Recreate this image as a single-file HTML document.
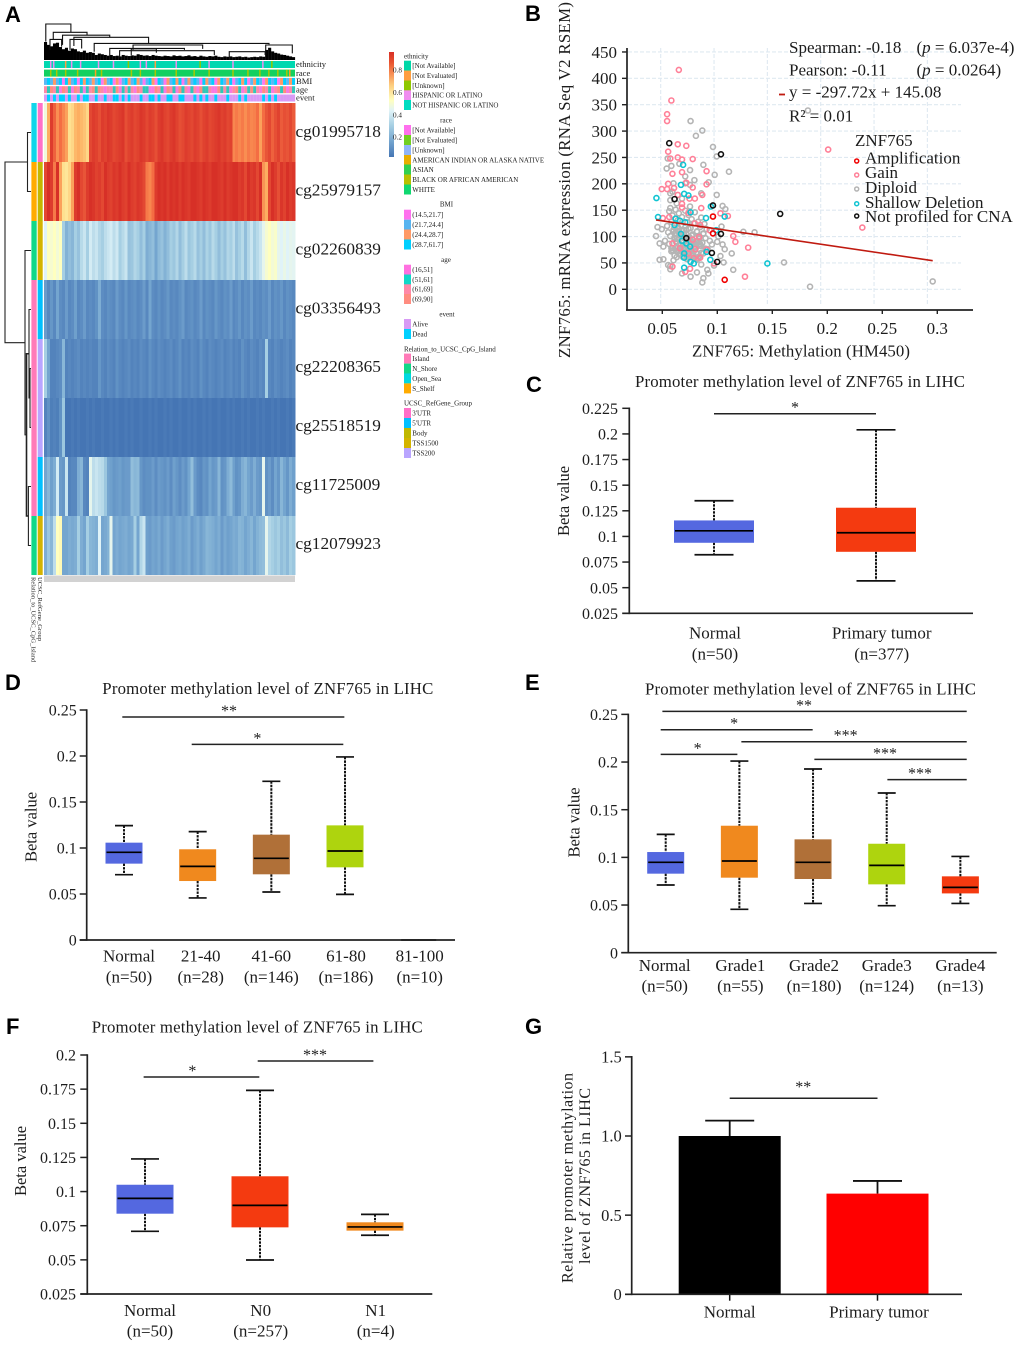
<!DOCTYPE html>
<html lang="en">
<head>
<meta charset="utf-8">
<title>ZNF765 promoter methylation in LIHC</title>
<style>
html,body{margin:0;padding:0;background:#fff;}
svg{display:block;font-family:"Liberation Serif",serif;}
text{fill:#1c1c1c;}
.letter{font-family:"Liberation Sans",sans-serif;font-weight:bold;font-size:22px;fill:#000;}
</style>
</head>
<body>
<svg id="figure" xmlns="http://www.w3.org/2000/svg" width="1020" height="1345" viewBox="0 0 1020 1345">
  <rect width="1020" height="1345" fill="#fff"/>
  <defs>
    <linearGradient id="heat-gradient" x1="0" y1="0" x2="0" y2="1">
      <stop offset="0" stop-color="#d73027"/><stop offset=".1" stop-color="#e8532f"/><stop offset=".2" stop-color="#f68a52"/>
      <stop offset=".32" stop-color="#fdcf80"/><stop offset=".46" stop-color="#ffffbf"/><stop offset=".56" stop-color="#e0f3f8"/>
      <stop offset=".7" stop-color="#a6cfe3"/><stop offset=".85" stop-color="#74a5cf"/><stop offset="1" stop-color="#4575b4"/>
    </linearGradient>
  </defs>
  <text class="letter" x="5" y="22">A</text>
  <text class="letter" x="525" y="21">B</text>
  <text class="letter" x="526" y="392">C</text>
  <text class="letter" x="5" y="690">D</text>
  <text class="letter" x="525" y="690">E</text>
  <text class="letter" x="6" y="1034">F</text>
  <text class="letter" x="525" y="1034">G</text>
  <g id="panel-a"></g>
  <g id="panel-b"></g>
  <g id="panel-c"></g>
  <g id="panel-d"></g>
  <g id="panel-e"></g>
  <g id="panel-f"></g>
  <g id="panel-g"></g>
</svg>
<script>
/* ---------- Panel A data ---------- */
const heatProbes = ['cg01995718','cg25979157','cg02260839','cg03356493','cg22208365','cg25518519','cg11725009','cg12079923'];
const heatRow1 = [.45,.7,.88,.82,.75,.8,.76,.72,.6,.62,.68,.7,.68,.66,.62,.86,.88,.87,.85,.88,.87,.89,.88,.86,.87,.88,.89,.85,.87,.88,.86,.87,.89,.88,.86,.88,.87,.85,.88,.89,.87,.86,.88,.89,.87,.85,.86,.88,.87,.86,.88,.87,.85,.87,.88,.86,.87,.88,.89,.87,.88,.86,.87,.76,.78,.76,.78,.75,.78,.76,.77,.8,.72,.8,.84,.86,.82,.85,.87,.83,.85,.84,.86,.83];
const heatRow2 = [.86,.9,.88,.78,.9,.72,.6,.58,.62,.72,.88,.9,.86,.84,.88,.9,.89,.87,.88,.86,.9,.88,.87,.89,.88,.9,.88,.87,.9,.88,.87,.89,.88,.86,.78,.76,.8,.88,.9,.89,.9,.88,.9,.89,.91,.88,.9,.89,.88,.9,.91,.89,.88,.9,.89,.88,.9,.91,.89,.88,.9,.88,.89,.9,.91,.88,.89,.86,.9,.88,.89,.86,.9,.74,.7,.86,.9,.88,.85,.89,.87,.9,.88,.89];
const heatRow3 = [.4,.5,.47,.5,.46,.5,.3,.23,.26,.24,.3,.27,.33,.36,.3,.38,.34,.36,.32,.3,.34,.36,.38,.34,.37,.3,.33,.36,.27,.28,.32,.3,.26,.3,.22,.24,.26,.2,.25,.27,.23,.26,.3,.28,.32,.26,.3,.34,.28,.3,.33,.27,.3,.26,.31,.28,.33,.3,.26,.3,.27,.32,.3,.34,.27,.3,.33,.26,.32,.36,.3,.33,.36,.42,.47,.5,.46,.48,.42,.4,.43,.4,.42,.41];
const heatRow4 = [.18,.14,.17,.14,.2,.15,.14,.18,.14,.15,.19,.14,.15,.18,.14,.15,.14,.16,.22,.15,.14,.16,.15,.14,.18,.15,.14,.17,.14,.15,.16,.14,.15,.18,.14,.2,.15,.14,.16,.14,.15,.17,.14,.15,.14,.16,.18,.14,.15,.16,.14,.15,.18,.14,.16,.15,.14,.17,.15,.14,.16,.15,.18,.14,.15,.17,.14,.16,.15,.18,.14,.15,.14,.16,.15,.18,.14,.16,.15,.17,.14,.16,.15,.14];
const heatRow5 = [.3,.2,.13,.13,.14,.15,.24,.13,.14,.13,.14,.15,.13,.14,.13,.14,.13,.13,.17,.14,.13,.15,.14,.13,.16,.14,.13,.14,.15,.13,.14,.13,.15,.14,.13,.16,.14,.13,.15,.14,.13,.14,.15,.13,.14,.16,.13,.14,.13,.15,.14,.13,.16,.14,.13,.15,.14,.13,.14,.15,.13,.14,.15,.13,.14,.13,.16,.14,.13,.15,.14,.13,.15,.14,.3,.14,.13,.15,.14,.13,.14,.15,.13,.14];
const heatRow6 = [.13,.16,.12,.13,.12,.16,.28,.1,.1,.11,.1,.11,.1,.1,.11,.1,.11,.1,.1,.11,.1,.1,.11,.1,.11,.1,.1,.11,.1,.11,.1,.1,.11,.1,.1,.11,.1,.11,.1,.1,.11,.1,.11,.1,.1,.11,.1,.1,.11,.1,.11,.1,.1,.11,.1,.11,.1,.1,.11,.1,.1,.11,.1,.11,.1,.1,.11,.1,.11,.1,.1,.11,.1,.11,.1,.1,.11,.1,.11,.1,.1,.11,.1,.11];
const heatRow7 = [.2,.24,.19,.22,.38,.18,.17,.36,.13,.14,.14,.22,.24,.14,.13,.42,.34,.36,.34,.33,.28,.2,.19,.17,.18,.19,.17,.18,.18,.26,.24,.25,.17,.15,.16,.16,.18,.15,.18,.17,.16,.18,.15,.19,.17,.15,.18,.16,.2,.26,.18,.15,.14,.17,.16,.2,.17,.18,.24,.16,.17,.22,.25,.19,.16,.17,.22,.24,.2,.18,.22,.18,.17,.42,.16,.18,.15,.2,.17,.24,.2,.17,.22,.19];
const heatRow8 = [.22,.28,.24,.34,.5,.52,.2,.2,.22,.21,.22,.3,.22,.2,.3,.24,.23,.22,.4,.2,.21,.23,.42,.2,.22,.2,.21,.22,.2,.21,.3,.2,.32,.36,.19,.18,.2,.19,.21,.18,.2,.22,.19,.18,.2,.21,.19,.2,.22,.18,.2,.22,.19,.21,.24,.23,.22,.2,.22,.18,.21,.19,.2,.22,.21,.24,.23,.2,.22,.24,.2,.23,.25,.26,.42,.32,.3,.28,.3,.26,.28,.25,.3,.28];
const heatRows = [heatRow1,heatRow2,heatRow3,heatRow4,heatRow5,heatRow6,heatRow7,heatRow8];
const annotationNames = ['ethnicity','race','BMI','age','event'];
const annotationEthnicity = 'nnppnnnonp'+'nnpnnnnnpn'+'nnnpnnnngn'+'nnpnpnnonn'+'nnnnpnnnnn'+'nngnnpnnnn'+'nnnpnnnnnn'+'nnnpnngnnn'+'nnnn';
const annotationRace = 'ggogoggogg'+'gogggggrgo'+'gggggggggo'+'ggoggggogg'+'ggggoggggg'+'oggggogggg'+'gggoggggog'+'ggoggoggog'+'gorg';
const annotationBmi = 'bdbcbdadcb'+'dadcdbcbda'+'cbdacabdcb'+'dcbabdcadb'+'acbdcdabcb'+'dbadcbdacd'+'bcdabdcdab'+'cdbacdbdac'+'dbcd';
const annotationAge = 'rtsrtasrta'+'srtatrstsr'+'arrtsatrtr'+'asrttaasrt'+'asrtastrat'+'rasttraast'+'rtarstarts'+'trasrtarst'+'sart';
const annotationEvent = 'lclclcclcl'+'lclccllcll'+'cllcclclcl'+'llcllcclcl'+'lccllcclll'+'clclcllcll'+'lclllclcll'+'lllclclcll'+'llll';
const annotationRows = [annotationEthnicity,annotationRace,annotationBmi,annotationAge,annotationEvent];
const rowRelationGroup = ['Open_Sea','S_Shelf','N_Shore','Island','Island','Island','Island','N_Shore'];
const rowRefGeneGroup = ['3\'UTR','Body','TSS1500','5\'UTR','TSS200','TSS200','5\'UTR','TSS1500'];
/* dendrogram merges: columns and heights */
const dendroColA = [.6,3.1,6.2,10,16.8,29.8,22,25.3,29.2,74.2,8.7,2,62];
const dendroColB = [9,14.4,22,35,75.3,53.1,47,57,37.6,83.1,12.6,5.9,74];
const dendroHeight = [1,.77,.69,.63,.46,.417,.32,.26,.31,.417,.57,.57,.23];
const dendroDropA = [.51,.57,.42,.39,.23,.28,.11,.07,.14,.14,.28,.28,.09];
const dendroDropB = [.77,.69,.63,.46,.435,.31,.28,.14,.2,.185,.32,.37,.14];
const dendroSilhouette = [.5,.42,.38,.46,.48,.36,.3,.34,.26,.32,.3,.24,.22,.26,.2,.22,.2,.14,.18,.16,.14,.12,.14,.11,.12,.1,.14,.12,.11,.13,.12,.16,.14,.12,.13,.11,.14,.12,.11,.1,.12,.11,.1,.13,.11,.12,.1,.11,.13,.1,.11,.09,.12,.1,.09,.11,.1,.12,.09,.08,.1,.09,.1,.08,.09,.1,.08,.09,.07,.08,.09,.08,.1,.09,.28,.34,.24,.2,.18,.15,.14,.12,.1,.08];

/* ---------- Panel B data ---------- */
const gainX = [.067,.06,.056,.056,.066,.074,.057,.059,.066,.07,.08,.093,.07,.061,.08,.057,.051,.056,.0625,.074,.093,.089,.066,.077,.082,.07,.07,.088,.076,.052,.058,.113,.106,.082,.087,.207,.239,.118,.12,.132,.129,.061,.068,.086,.08,.0825,.093,.076,.087,.081,.061,.0775,.073,.1,.096];
const gainY = [416,358,332,319,275,272,261,248,250,246,247,224,222,219,193,200,190,190,192,202,199,179,179,172,172,162,155,154,145,135,137,139,144,125,122,265,117,101,90,79,24,87,78,99,94,76,75,68,60,59,43,39,33,49,112];
const amplificationX = [.099,.099,.11];
const amplificationY = [138,106,18];
const shallowX = [.071,.069,.072,.076,.046,.0475,.078,.064,.068,.073,.063,.097,.0925,.11,.102,.069,.07,.074,.0775,.072,.072,.093,.0965,.078,.081,.072,.15];
const shallowY = [236,198,181,178,173,137,146,134,130,127,122,157,135,138,112,105,92,87,81,68,60,71,56,52,49,41,49];
const notProfiledX = [.058,.1065,.099,.162,.1065,.098,.103,.074,.063];
const notProfiledY = [277,256,159,143,105,69,52,97,171];
const diploidX = [.188,.078,.089,.083,.099,.1025,.114,.1006,.09,.0566,.0556,.06,.0675,.073,.0775,.0816,.095,.062,.1025,.059,.059,.061,.073,.0775,.07,.059,.065,.0775,.088,.108,.1106,.107,.1275,.138,.047,.051,.0456,.049,.054,.0525,.1166,.118,.049,.0525,.057,.059,.07,.078,.084,.09,.089,.0947,.0937,.109,.1656,.19,.305,
 .058,.061,.064,.067,.07,.073,.076,.079,.082,.085,.088,.091,.056,.06,.063,.066,.069,.072,.075,.078,.081,.084,.087,.09,.093,.057,.059,.062,.065,.068,.071,.074,.077,.08,.083,.086,.089,.092,.096,.058,.061,.064,.067,.071,.074,.077,.08,.083,.087,.09,.094,.098,.06,.063,.066,.069,.072,.075,.079,.082,.085,.088,.092,.062,.065,.068,.071,.074,.078,.081,.084,.088,.1,.104,.103,.108,.11,.106,
 .059,.062,.064,.066,.068,.07,.072,.074,.076,.078,.08,.082,.084,.086,.088,.09,.06,.063,.065,.067,.069,.071,.073,.075,.077,.079,.081,.083,.085,.087,.061,.063,.066,.068,.07,.072,.074,.076,.078,.08,.082,.084,.086,.065,.067,.069,.071,.073,.075,.077,.079,.081,.083,.066,.069,.072,.075,.078,.08,.068,.071,.074,.076];
const diploidY = [339,319,301,291,270,252,223,217,236,248,229,234,238,214,226,207,203,201,179,182,169,185,201,198,172,154,163,157,182,158,152,119,109,108,118,114,101,87,92,81,68,37,56,57,46,38,30,24,32,21,13,30,37,51,51,5,15,
 148,140,151,144,137,149,141,133,146,128,136,124,120,128,117,131,122,112,127,116,125,109,118,106,114,108,101,110,96,105,93,112,99,104,90,101,88,97,92,86,78,91,74,84,95,70,89,79,83,68,76,85,72,64,79,67,75,62,73,81,59,69,77,55,61,66,70,58,52,63,56,47,45,100,90,85,76,63,44,
 113,107,118,102,111,97,106,115,92,103,87,110,96,82,105,78,98,89,108,76,99,84,93,71,102,80,91,67,86,74,95,72,83,101,69,88,77,94,65,81,90,62,73,111,84,63,99,75,92,68,86,58,79,72,103,57,89,65,77,61,83,70,54];
const regressionSlope = -297.72;
const regressionIntercept = 145.08;
const regressionRange = [.0456,.305];
const scatterYTicks = [0,50,100,150,200,250,300,350,400,450];
const scatterXTicks = [.05,.1,.15,.2,.25,.3];
const scatterXTickLabels = ['0.05','0.1','0.15','0.2','0.25','0.3'];

/* ---------- Panel C data ---------- */
const cCategories = ['Normal','Primary tumor'];
const cCounts = ['(n=50)','(n=377)'];
const cLow = [.0821,.0566];
const cQ1 = [.0938,.085];
const cMedian = [.1055,.1036];
const cQ3 = [.1156,.128];
const cHigh = [.1348,.204];
const cColors = ['#5468e0','#f43a10'];
const cTicks = [.025,.05,.075,.1,.125,.15,.175,.2,.225];
const cTickLabels = ['0.025','0.05','0.075','0.1','0.125','0.15','0.175','0.2','0.225'];
const cSigFrom = [0];
const cSigTo = [1];
const cSigLevel = [.2197];
const cSigLabel = ['*'];
const cSigAt = [.5];

/* ---------- Panel D data ---------- */
const dCategories = ['Normal','21-40','41-60','61-80','81-100'];
const dCounts = ['(n=50)','(n=28)','(n=146)','(n=186)','(n=10)'];
const dLow = [.071,.0457,.0522,.0496,0];
const dQ1 = [.083,.0641,.0714,.079,0];
const dMedian = [.0953,.08,.0888,.0967,0];
const dQ3 = [.1058,.0986,.1145,.1246,0];
const dHigh = [.1243,.1178,.1725,.199,0];
const dColors = ['#5468e0','#f0891e','#b07038','#aed40e','#f43a10'];
const dTicks = [0,.05,.1,.15,.2,.25];
const dTickLabels = ['0','0.05','0.1','0.15','0.2','0.25'];
const dSigFrom = [-.023,.919];
const dSigTo = [2.991,2.977];
const dSigLevel = [.2424,.2127];
const dSigLabel = ['**','*'];
const dSigAt = [1.425,1.81];

/* ---------- Panel E data ---------- */
const eCategories = ['Normal','Grade1','Grade2','Grade3','Grade4'];
const eCounts = ['(n=50)','(n=55)','(n=180)','(n=124)','(n=13)'];
const eLow = [.071,.0455,.0517,.0493,.0517];
const eQ1 = [.0829,.0787,.0773,.0717,.0622];
const eMedian = [.0948,.0962,.0948,.0916,.0685];
const eQ3 = [.1056,.1332,.1189,.1143,.0801];
const eHigh = [.1241,.201,.1927,.1675,.101];
const eColors = ['#5468e0','#f0891e','#b07038','#aed40e','#f43a10'];
const eTicks = [0,.05,.1,.15,.2,.25];
const eTickLabels = ['0','0.05','0.1','0.15','0.2','0.25'];
const eSigFrom = [-.045,-.068,1.027,-.068,2.018,3.009];
const eSigTo = [4.086,1.995,4.086,.973,4.086,4.086];
const eSigLevel = [.2531,.2339,.2213,.208,.2028,.1815];
const eSigLabel = ['**','*','***','*','***','***'];
const eSigAt = [1.878,.928,2.443,.434,2.977,3.452];

/* ---------- Panel F data ---------- */
const fCategories = ['Normal','N0','N1'];
const fCounts = ['(n=50)','(n=257)','(n=4)'];
const fLow = [.0709,.0499,.068];
const fQ1 = [.0838,.0738,.0714];
const fMedian = [.095,.0899,.0741];
const fQ3 = [.105,.1112,.0775];
const fHigh = [.1239,.1741,.0833];
const fColors = ['#5468e0','#f43a10','#f0891e'];
const fTicks = [.025,.05,.075,.1,.125,.15,.175,.2];
const fTickLabels = ['0.025','0.05','0.075','0.1','0.125','0.15','0.175','0.2'];
const fSigFrom = [-.012,.98];
const fSigTo = [.994,1.986];
const fSigLevel = [.1839,.1956];
const fSigLabel = ['*','***'];
const fSigAt = [.412,1.478];

/* ---------- Panel G data ---------- */
const gCategories = ['Normal','Primary tumor'];
const gValues = [1,.636];
const gErrorTop = [1.097,.716];
const gColors = ['#000000','#ff0000'];
const gTicks = [0,.5,1,1.5];
const gTickLabels = ['0','0.5','1.0','1.5'];

/* ---------- helpers ---------- */
const NS = 'http://www.w3.org/2000/svg';
function make(parent, tag, attrs, txt) {
  const e = document.createElementNS(NS, tag);
  for (const k in attrs) e.setAttribute(k, attrs[k]);
  if (txt !== undefined) e.textContent = txt;
  parent.appendChild(e);
  return e;
}
function slug(s) {
  return String(s).toLowerCase().replace(/[^a-z0-9]+/g, '-').replace(/^-|-$/g, '');
}
const heatStops = [[.1,[69,117,180]],[.2,[116,165,207]],[.3,[166,207,227]],[.4,[224,243,248]],[.5,[255,255,191]],[.6,[254,224,144]],[.7,[253,174,97]],[.8,[244,109,67]],[.9,[215,48,39]]];
function heatColor(v) {
  if (v <= heatStops[0][0]) return 'rgb(' + heatStops[0][1].join(',') + ')';
  for (let i = 1; i < heatStops.length; i++) {
    if (v <= heatStops[i][0]) {
      const a = heatStops[i-1], b = heatStops[i], t = (v - a[0]) / (b[0] - a[0]);
      return 'rgb(' + a[1].map((c, j) => Math.round(c + (b[1][j] - c) * t)).join(',') + ')';
    }
  }
  return 'rgb(' + heatStops[8][1].join(',') + ')';
}

/* ---------- Panel A ---------- */
(function drawHeatmap() {
  const g = document.getElementById('panel-a');
  const X0 = 44, COLW = 251 / 84, ROWH = 59, Y0 = 103;
  const colX = c => X0 + c * COLW;
  const rowY = r => Y0 + r * ROWH;
  const dendY = h => 60 - h * 36;

  // top dendrogram
  const top = make(g, 'g', {});
  
  
  dendroSilhouette.forEach((h, c) => {
    const r = make(top, 'rect', {x: colX(c), y: dendY(h), width: COLW + .1, height: h * 36, fill: '#000'});
    
    
  });
  dendroColA.forEach((a, i) => {
    const d = 'M' + colX(a) + ' ' + dendY(dendroDropA[i]) + 'V' + dendY(dendroHeight[i]) + 'H' + colX(dendroColB[i]) + 'V' + dendY(dendroDropB[i]);
    const p = make(top, 'path', {d: d, fill: 'none', stroke: '#111', 'stroke-width': 1.1});
    
    
  });

  // annotation strips
  const annColors = [
    {n:'#00d8b0',p:'#f08cf0',o:'#ff9e40',g:'#8fc800'},
    {g:'#12d060',o:'#a8c800',r:'#ffa020'},
    {a:'#ff78ee',b:'#5ab8f5',c:'#ff9a66',d:'#00cfff'},
    {a:'#f87ae0',t:'#30c8b8',r:'#ff88a8',s:'#ff8c80'},
    {l:'#d89af5',c:'#00d0ff'}
  ];
  const annBase = ['n','g',null,null,null];
  const annY = [61,69.6,77.9,86.2,94.5];
  annotationRows.forEach((row, r) => {
    const sg = make(g, 'g', {});
    
    
    if (annBase[r]) {
      const base = make(sg, 'rect', {x: X0, y: annY[r], width: 251, height: 7, fill: annColors[r][annBase[r]]});
      
      
    }
    for (let c = 0; c < row.length; c++) {
      if (annBase[r] && row[c] === annBase[r]) continue;
      const cell = make(sg, 'rect', {x: colX(c), y: annY[r], width: annBase[r] ? 1.5 : COLW + .1, height: 7, fill: annColors[r][row[c]]});
      
      
    }
    const t = make(g, 'text', {x: 296, y: annY[r] + 6.2, 'font-size': 8.6}, annotationNames[r]);
    
    
  });

  // heat cells
  heatRows.forEach((row, r) => {
    const rg = make(g, 'g', {'shape-rendering': 'crispEdges'});
    
    
    row.forEach((v, c) => {
      const cell = make(rg, 'rect', {x: colX(c), y: rowY(r), width: COLW + .3, height: ROWH, fill: heatColor(v)});
      
      
    });
    const lab = make(g, 'text', {x: 295.5, y: Y0 + r * 58.86 + 33.8, 'font-size': 17.3, fill: '#111'}, heatProbes[r]);
    
    
  });

  // left annotation columns
  const relColor = {Open_Sea:'#10d6ea', S_Shelf:'#ffab00', N_Shore:'#10d888', Island:'#ff7ab8'};
  const refColor = {"3'UTR":'#ff70c8', "5'UTR":'#00c0ff', Body:'#c4b800', TSS1500:'#d4b400', TSS200:'#b9a5ff'};
  rowRelationGroup.forEach((name, r) => {
    const a = make(g, 'rect', {x: 31.4, y: rowY(r), width: 5.3, height: ROWH, fill: relColor[name]});
    
    
    const b = make(g, 'rect', {x: 37.7, y: rowY(r), width: 5, height: ROWH, fill: refColor[rowRefGeneGroup[r]]});
    
    
  });

  // row dendrogram
  const rowC = r => rowY(r) + ROWH / 2;
  const mergeA = (r0, r1, x, xa, xb, sw) => {
    const d = 'M' + xa + ' ' + r0 + 'H' + x + 'V' + r1 + 'H' + xb;
    const p = make(g, 'path', {d: d, fill: 'none', stroke: '#222', 'stroke-width': sw || 1.1});
    
    
  };
  const m45 = (rowC(4) + rowC(5)) / 2;
  const m345 = (rowC(3) + m45) / 2;
  const m67 = (rowC(6) + rowC(7)) / 2;
  const m37 = (m345 + m67) / 2;
  const m27 = (rowC(2) + m37) / 2;
  mergeA(rowC(0), rowC(1), 27.5, 31, 31);
  mergeA(rowC(4), rowC(5), 30, 31, 31);
  mergeA(rowC(3), m45, 29, 31, 30);
  mergeA(rowC(6), rowC(7), 28.4, 31, 31);
  mergeA(m345, m67, 26.5, 29, 28.4, 1.6);
  mergeA(rowC(2), m37, 25, 31, 26.5);
  mergeA((rowC(0) + rowC(1)) / 2, m27, 5, 27.5, 25);

  // bottom sample-label band
  const band = make(g, 'rect', {x: 44, y: 575.5, width: 251, height: 6.5, fill: '#d2d2d2'});
  
  
  const t1 = make(g, 'text', {x: 0, y: 0, 'font-size': 6.6, transform: 'translate(38 577) rotate(90)'}, 'UCSC_RefGene_Group');
  
  
  const t2 = make(g, 'text', {x: 0, y: 0, 'font-size': 6.5, transform: 'translate(31.5 577) rotate(90)'}, 'Relation_to_UCSC_CpG_Island');
  
  

  // colour bar
  const cb = make(g, 'rect', {x: 389, y: 52, width: 5, height: 105, fill: 'url(#heat-gradient)'});
  
  
  [['0.8',72.5],['0.6',95],['0.4',117.5],['0.2',139.5]].forEach(item => {
    const t = make(g, 'text', {x: 393, y: item[1], 'font-size': 7.2}, item[0]);
    
    
  });

  // legends
  const legends = [
    {title:'ethnicity', tx:404, anchor:'start', ty:58.5, y:[65.7,75.5,85.5,95.3,105], items:[['[Not Available]','#00d8a8'],['[Not Evaluated]','#ff9e40'],['[Unknown]','#8fc800'],['HISPANIC OR LATINO','#f08cf0'],['NOT HISPANIC OR LATINO','#00dcc0']]},
    {title:'race', tx:446, anchor:'middle', ty:122.5, y:[130,140,150,160,169.5,179.5,189.5], items:[['[Not Available]','#ff70ee'],['[Not Evaluated]','#72cf20'],['[Unknown]','#90b4f8'],['AMERICAN INDIAN OR ALASKA NATIVE','#e8ae00'],['ASIAN','#30d050'],['BLACK OR AFRICAN AMERICAN','#b8c000'],['WHITE','#10d870']]},
    {title:'BMI', tx:446.5, anchor:'middle', ty:206.5, y:[214.7,224.7,234.5,244.5], items:[['(14.5,21.7]','#ff70ee'],['(21.7,24.4]','#58b4f0'],['(24.4,28.7]','#ff9a66'],['(28.7,61.7]','#00cfff']]},
    {title:'age', tx:446, anchor:'middle', ty:262, y:[269.7,279.5,289.3,299], items:[['(16,51]','#ff70e0'],['(51,61]','#10d8c8'],['(61,69]','#ff88a8'],['(69,90]','#ff8c80']]},
    {title:'event', tx:447, anchor:'middle', ty:316.5, y:[324,334], items:[['Alive','#d89af5'],['Dead','#00d0ff']]},
    {title:'Relation_to_UCSC_CpG_Island', tx:404, anchor:'start', ty:351.5, y:[358.6,368.6,378.4,388.4], items:[['Island','#ff7ab8'],['N_Shore','#10d888'],['Open_Sea','#00d8e0'],['S_Shelf','#ffab00']]},
    {title:'UCSC_RefGene_Group', tx:404, anchor:'start', ty:405.5, y:[413,423,433,443,453], items:[["3'UTR",'#ff70c8'],["5'UTR",'#00c0ff'],['Body','#c0b800'],['TSS1500','#d4b400'],['TSS200','#b9a5ff']]}
  ];
  legends.forEach(L => {
    const lg = make(g, 'g', {});
    
    
    const t = make(lg, 'text', {x: L.tx, y: L.ty, 'font-size': 7, 'text-anchor': L.anchor}, L.title);
    
    
    L.items.forEach((it, i) => {
      const s = make(lg, 'rect', {x: 404, y: L.y[i] - 5, width: 7, height: 10, fill: it[1]});
      
      
      const l = make(lg, 'text', {x: 412.3, y: L.y[i] + 2.4, 'font-size': 7}, it[0]);
      
      
    });
  });
})();

/* ---------- Panel B ---------- */
(function drawScatter() {
  const g = document.getElementById('panel-b');
  const xData = v => 660.7 + (v - .05) * 1066.7;
  const xTick = v => 662.3 + (v - .05) * 1100;
  const yData = v => 289.3 - v * .5274;

  // grid
  scatterXTicks.forEach(v => {
    const l = make(g, 'line', {x1: xData(v), x2: xData(v), y1: 48, y2: 306, stroke: '#dfe9f1', 'stroke-width': 1.1, 'stroke-dasharray': '4 2'});
    
    
  });
  scatterYTicks.forEach(v => {
    const l = make(g, 'line', {x1: 628, x2: 961, y1: yData(v), y2: yData(v), stroke: '#dfe9f1', 'stroke-width': 1.1, 'stroke-dasharray': '4 2'});
    
    
  });

  // series
  const drawSeries = (xs, ys, color, name) => {
    const sg = make(g, 'g', {});
    
    
    xs.forEach((x, i) => {
      const c = make(sg, 'circle', {cx: xData(x), cy: yData(ys[i]), r: 2.5, fill: 'none', stroke: color, 'stroke-width': 1.6});
      
      
    });
  };
  drawSeries(diploidX, diploidY, '#b4b4b4', 'diploid');
  drawSeries(gainX, gainY, '#ff8098', 'gain');
  drawSeries(shallowX, shallowY, '#10c4d2', 'shallow-deletion');
  drawSeries(notProfiledX, notProfiledY, '#111', 'not-profiled');
  drawSeries(amplificationX, amplificationY, '#f00000', 'amplification');

  // regression
  const reg = v => regressionSlope * v + regressionIntercept;
  const rl = make(g, 'line', {x1: xData(regressionRange[0]), y1: yData(reg(regressionRange[0])), x2: xData(regressionRange[1]), y2: yData(reg(regressionRange[1])), stroke: '#c01a10', 'stroke-width': 1.6});
  
  

  // axes
  const ya = make(g, 'line', {x1: 627, x2: 627, y1: 48, y2: 310.5, stroke: '#222', 'stroke-width': 1.7});
  
  
  const xa = make(g, 'line', {x1: 626, x2: 973, y1: 310, y2: 310, stroke: '#222', 'stroke-width': 1.7});
  
  
  scatterYTicks.forEach(v => {
    const k = make(g, 'line', {x1: 622, x2: 627, y1: yData(v), y2: yData(v), stroke: '#222', 'stroke-width': 1.4});
    
    
    const t = make(g, 'text', {x: 617, y: yData(v) + 5.8, 'font-size': 17, 'text-anchor': 'end'}, String(v));
    
    
  });
  scatterXTicks.forEach((v, i) => {
    const k = make(g, 'line', {x1: xTick(v), x2: xTick(v), y1: 310, y2: 314, stroke: '#222', 'stroke-width': 1.4});
    
    
    const t = make(g, 'text', {x: xTick(v), y: 334, 'font-size': 17, 'text-anchor': 'middle'}, scatterXTickLabels[i]);
    
    
  });
  const xt = make(g, 'text', {x: 801, y: 356.5, 'font-size': 16.8, 'text-anchor': 'middle', textLength: 218}, 'ZNF765: Methylation (HM450)');
  
  
  const yt = make(g, 'text', {x: 0, y: 0, 'font-size': 16.8, 'text-anchor': 'middle', textLength: 356, transform: 'translate(570 180) rotate(-90)'}, 'ZNF765: mRNA expression (RNA Seq V2 RSEM)');
  
  

  // statistics
  const stats = [['Spearman: -0.18',789,53,'spearman-text'],['Pearson: -0.11',789,75.7,'pearson-text'],['y = -297.72x + 145.08',789,97.7,'regression-equation'],['R\u00B2 = 0.01',789,121.7,'r-squared-text']];
  stats.forEach(s => {
    const t = make(g, 'text', {x: s[1], y: s[2], 'font-size': 17}, s[0]);
    
    
  });
  [['6.037e-4',53,'spearman-p-value'],['0.0264',75.7,'pearson-p-value']].forEach(p => {
    const t = make(g, 'text', {x: 916.5, y: p[1], 'font-size': 17});
    
    
    make(t, 'tspan', {}, '(');
    make(t, 'tspan', {'font-style': 'italic'}, 'p');
    make(t, 'tspan', {}, ' = ' + p[0] + ')');
  });
  const ll = make(g, 'line', {x1: 779, x2: 785, y1: 94.5, y2: 94.5, stroke: '#c01a10', 'stroke-width': 1.8});
  
  

  // legend
  const lt = make(g, 'text', {x: 855, y: 146, 'font-size': 17}, 'ZNF765');
  
  
  [['Amplification','#f00000',163.3,161],['Gain','#ff8098',178,175],['Diploid','#b4b4b4',193,189],['Shallow Deletion','#10c4d2',208,203.7],['Not profiled for CNA','#111',222,216]].forEach(item => {
    const c = make(g, 'circle', {cx: 856.7, cy: item[3], r: 2, fill: 'none', stroke: item[1], 'stroke-width': 1.5});
    
    
    const t = make(g, 'text', {x: 865, y: item[2], 'font-size': 17}, item[0]);
    
    
  });
})();

/* ---------- Box charts ---------- */
function drawBoxChart(g, L, cats, counts, low, q1, med, q3, high, colors, ticks, tickLabels, sigFrom, sigTo, sigLevel, sigLabel, sigAt) {
  const y = v => L.yBottom - (v - L.vMin) * L.k;
  const x = i => L.x0 + i * L.step;

  const title = make(g, 'text', {x: L.titleX, y: L.titleY, 'font-size': 16.8, textLength: L.titleW}, 'Promoter methylation level of ZNF765 in LIHC');
  
  

  const yt = make(g, 'text', {x: 0, y: 0, 'font-size': 16.5, 'text-anchor': 'middle', transform: 'translate(' + L.yTitleX + ' ' + L.yTitleY + ') rotate(-90)'}, 'Beta value');
  
  

  cats.forEach((c, i) => {
    const cx = x(i), w = L.boxW, col = colors[i];
    const wh = make(g, 'line', {x1: cx, x2: cx, y1: y(high[i]), y2: y(q3[i]), stroke: '#111', 'stroke-width': 2, 'stroke-dasharray': '2.4 1.1'});
    
    
    const wl = make(g, 'line', {x1: cx, x2: cx, y1: y(q1[i]), y2: y(low[i]), stroke: '#111', 'stroke-width': 2, 'stroke-dasharray': '2.4 1.1'});
    
    
    if (high[i] > 0) {
      const ch = make(g, 'line', {x1: cx - L.capW / 2, x2: cx + L.capW / 2, y1: y(high[i]), y2: y(high[i]), stroke: '#111', 'stroke-width': 1.7});
      
      
      const cl = make(g, 'line', {x1: cx - L.capW / 2, x2: cx + L.capW / 2, y1: y(low[i]), y2: y(low[i]), stroke: '#111', 'stroke-width': 1.7});
      
      
    }
    const b = make(g, 'rect', {x: cx - w / 2, y: y(q3[i]), width: w, height: y(q1[i]) - y(q3[i]), fill: col});
    
    
    const m = make(g, 'line', {x1: cx - w / 2 + 1, x2: cx + w / 2 - 1, y1: y(med[i]), y2: y(med[i]), stroke: '#000', 'stroke-width': 1.7});
    
    
    const lx = cx + L.labelShift[i];
    const t1 = make(g, 'text', {x: lx, y: L.labelY, 'font-size': 17, 'text-anchor': 'middle'}, c);
    
    
    const t2 = make(g, 'text', {x: lx, y: L.labelY + 20.7, 'font-size': 17, 'text-anchor': 'middle'}, counts[i]);
    
    
  });

  const ya = make(g, 'line', {x1: L.axisX, x2: L.axisX, y1: y(ticks[ticks.length - 1]) - .8, y2: L.yBottom + .8, stroke: '#222', 'stroke-width': 1.7});
  
  
  const xa = make(g, 'line', {x1: L.axisX - 7, x2: L.axisEnd, y1: L.yBottom, y2: L.yBottom, stroke: '#222', 'stroke-width': 1.7});
  
  
  ticks.forEach((v, i) => {
    const k = make(g, 'line', {x1: L.axisX - 7, x2: L.axisX, y1: y(v), y2: y(v), stroke: '#222', 'stroke-width': 1.5});
    
    
    const t = make(g, 'text', {x: L.tickLabelX, y: y(v) + 5.6, 'font-size': 16, 'text-anchor': 'end'}, tickLabels[i]);
    
    
  });

  sigFrom.forEach((f, i) => {
    const l = make(g, 'line', {x1: x(f), x2: x(sigTo[i]), y1: y(sigLevel[i]), y2: y(sigLevel[i]), stroke: '#222', 'stroke-width': 1.5});
    
    
    const s = make(g, 'text', {x: x(sigAt[i]), y: y(sigLevel[i]) - 1, 'font-size': 16, 'text-anchor': 'middle', fill: '#333'}, sigLabel[i]);
    
    
  });
}

drawBoxChart(document.getElementById('panel-c'),
  {vMin:.025,k:1025,yBottom:613.3,axisX:629.3,axisEnd:973,x0:714,step:162,boxW:80,capW:39,labelShift:[1,5.7],labelY:638.7,titleX:635,titleY:387,titleW:330,yTitleX:569,yTitleY:501,tickLabelX:618},
  cCategories,cCounts,cLow,cQ1,cMedian,cQ3,cHigh,cColors,cTicks,cTickLabels,cSigFrom,cSigTo,cSigLevel,cSigLabel,cSigAt);

drawBoxChart(document.getElementById('panel-d'),
  {vMin:0,k:920,yBottom:940,axisX:86.7,axisEnd:455,x0:124,step:73.67,boxW:37,capW:18,labelShift:[5,3,0,1,1],labelY:961.7,titleX:102.3,titleY:694,titleW:331,yTitleX:36.7,yTitleY:827,tickLabelX:76.7},
  dCategories,dCounts,dLow,dQ1,dMedian,dQ3,dHigh,dColors,dTicks,dTickLabels,dSigFrom,dSigTo,dSigLevel,dSigLabel,dSigAt);

drawBoxChart(document.getElementById('panel-e'),
  {vMin:0,k:953.3,yBottom:952.7,axisX:628.3,axisEnd:996.7,x0:665.7,step:73.67,boxW:37,capW:18,labelShift:[-1,1,1,0,0],labelY:971,titleX:645,titleY:694.7,titleW:331,yTitleX:579.3,yTitleY:822.5,tickLabelX:618},
  eCategories,eCounts,eLow,eQ1,eMedian,eQ3,eHigh,eColors,eTicks,eTickLabels,eSigFrom,eSigTo,eSigLevel,eSigLabel,eSigAt);

drawBoxChart(document.getElementById('panel-f'),
  {vMin:.025,k:1365.7,yBottom:1294,axisX:87.3,axisEnd:432.3,x0:145,step:115,boxW:57,capW:28,labelShift:[5,.7,.7],labelY:1316,titleX:91.7,titleY:1032.7,titleW:331,yTitleX:26,yTitleY:1161,tickLabelX:76},
  fCategories,fCounts,fLow,fQ1,fMedian,fQ3,fHigh,fColors,fTicks,fTickLabels,fSigFrom,fSigTo,fSigLevel,fSigLabel,fSigAt);

/* ---------- Panel G ---------- */
(function drawBars() {
  const g = document.getElementById('panel-g');
  const y = v => 1294.3 - v * 158.3;
  const x = i => 729.7 + i * 147.8;
  const BW = 102;
  gCategories.forEach((c, i) => {
    const st = make(g, 'line', {x1: x(i), x2: x(i), y1: y(gErrorTop[i]), y2: y(gValues[i]), stroke: '#111', 'stroke-width': 1.8});
    
    
    const cap = make(g, 'line', {x1: x(i) - 24.5, x2: x(i) + 24.5, y1: y(gErrorTop[i]), y2: y(gErrorTop[i]), stroke: '#111', 'stroke-width': 1.8});
    
    
    const b = make(g, 'rect', {x: x(i) - BW / 2, y: y(gValues[i]), width: BW, height: y(0) - y(gValues[i]), fill: gColors[i]});
    
    
    const k = make(g, 'line', {x1: x(i), x2: x(i), y1: y(0), y2: 1300.7, stroke: '#111', 'stroke-width': 1.5});
    
    
    const t = make(g, 'text', {x: x(i) + (i ? 1.5 : 0), y: 1317.7, 'font-size': 17, 'text-anchor': 'middle'}, c);
    
    
  });
  const ya = make(g, 'line', {x1: 631.7, x2: 631.7, y1: y(1.5) - .8, y2: y(0) + .8, stroke: '#222', 'stroke-width': 1.7});
  
  
  const xa = make(g, 'line', {x1: 625, x2: 962, y1: y(0), y2: y(0), stroke: '#222', 'stroke-width': 1.7});
  
  
  gTicks.forEach((v, i) => {
    const k = make(g, 'line', {x1: 625, x2: 631.7, y1: y(v), y2: y(v), stroke: '#222', 'stroke-width': 1.5});
    
    
    const t = make(g, 'text', {x: 621.7, y: y(v) + 5.6, 'font-size': 16.5, 'text-anchor': 'end'}, gTickLabels[i]);
    
    
  });
  const t1 = make(g, 'text', {x: 0, y: 0, 'font-size': 16, 'text-anchor': 'middle', textLength: 210, transform: 'translate(572.7 1178) rotate(-90)'}, 'Relative promoter methylation');
  
  
  const t2 = make(g, 'text', {x: 0, y: 0, 'font-size': 16, 'text-anchor': 'middle', textLength: 176, transform: 'translate(590 1176) rotate(-90)'}, 'level of ZNF765 in LIHC');
  
  
  const s = make(g, 'line', {x1: x(0), x2: x(1), y1: 1098.3, y2: 1098.3, stroke: '#222', 'stroke-width': 1.5});
  
  
  const st = make(g, 'text', {x: 803.3, y: 1092, 'font-size': 16, 'text-anchor': 'middle', fill: '#333'}, '**');
  
  
})();
</script>
</body>
</html>
